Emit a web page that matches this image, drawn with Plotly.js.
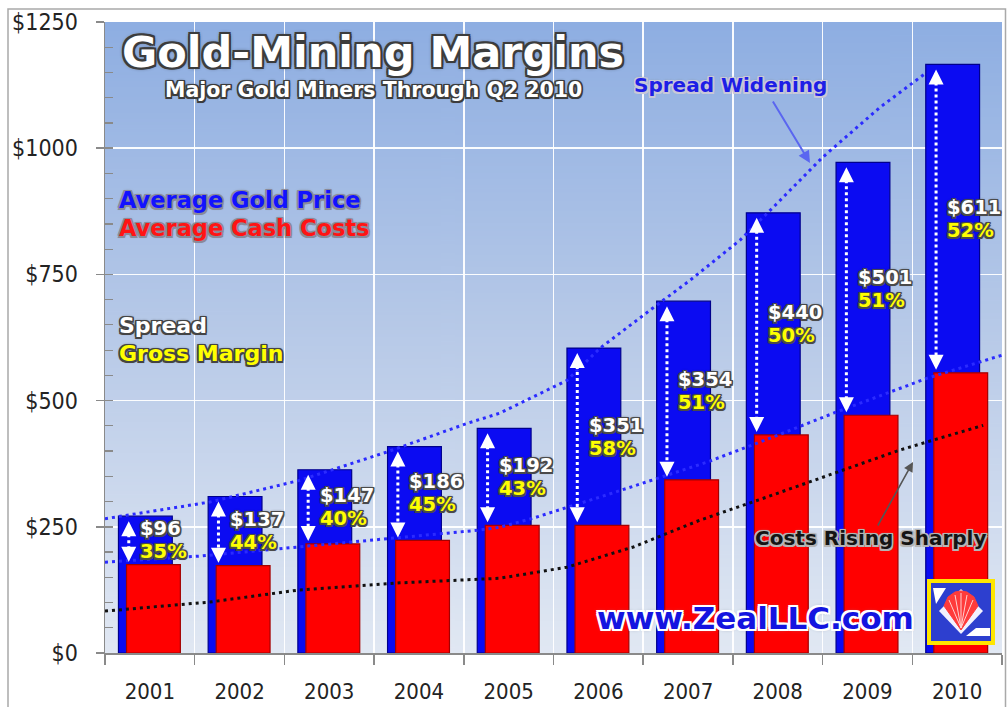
<!DOCTYPE html>
<html><head><meta charset="utf-8">
<script src="https://cdn.plot.ly/plotly-3.0.1.min.js"></script>
<style>html,body{margin:0;padding:0;background:#fff;overflow:hidden}#chart{width:1008px;height:707px}</style>
</head><body><div id="chart"></div>
<script>
// ---------- data ----------
const years = ['2001','2002','2003','2004','2005','2006','2007','2008','2009','2010'];
const yearNum = [2001,2002,2003,2004,2005,2006,2007,2008,2009,2010];
const goldPrice = [271,310,363,409,445,604,697,872,972,1166];
const cashCosts = [175,173,216,223,253,253,343,432,471,555];
const spreadLabels = ['$96','$137','$147','$186','$192','$351','$354','$440','$501','$611'];
const marginLabels = ['35%','44%','40%','45%','43%','58%','51%','50%','51%','52%'];

// dotted trend lines (fractional year, $)
const goldTrendX = [2000.5,2001.67,2002.67,2003.64,2004.54,2004.9,2005.65,2006.02,2006.65,2007.02,2007.58,2007.95,2008.5,2009.14,2009.66];
const goldTrendY = [266,299,342,398,455,475,540,604,689,738,818,883,982,1081,1150];
const midTrendX = [2000.5,2001.56,2004.65,2004.9,2005.27,2006.16,2007.21,2007.95,2008.62,2009.66,2010.5];
const midTrendY = [180,192,243,249,267,317,378,428,475,544,590];
const costTrendX = [2000.5,2001.67,2002.67,2003.79,2004.9,2005.65,2006.39,2007.13,2007.88,2008.62,2009.36,2010.29];
const costTrendY = [83,101,125,139,148,170,210,263,309,356,402,451];

const yTickVals = [0,250,500,750,1000,1250];
const yTickText = ['$0','$250','$500','$750','$1000','$1250'];

// ---------- layout geometry ----------
const W = 1008, H = 707, ML = 105, MR = 6, MT = 22, MB = 54;
const PW = W - ML - MR, PH = H - MT - MB;
const YMAX = 1250;
const px = (x) => (x - ML) / PW;            // pixel x -> paper
const py = (y) => (H - MB - y) / PH;        // pixel y -> paper
const pxPerDollar = PH / YMAX;

function outline(color, w, glow, glowColor) {
  const o = [];
  const d = [[-w,-w],[0,-w],[w,-w],[-w,0],[w,0],[-w,w],[0,w],[w,w]];
  for (const [dx,dy] of d) o.push(dx + 'px ' + dy + 'px 0 ' + color);
  if (glow) o.push('0 0 ' + glow + 'px ' + (glowColor || color));
  return o.join(', ');
}

// gradient background image for plot area
const cv = document.createElement('canvas');
cv.width = 4; cv.height = 400;
const cx = cv.getContext('2d');
const gr = cx.createLinearGradient(0,0,0,400);
gr.addColorStop(0, '#8eaee2');
gr.addColorStop(0.5, '#b8cae8');
gr.addColorStop(1, '#e1e8f3');
cx.fillStyle = gr; cx.fillRect(0,0,4,400);
const bgURL = cv.toDataURL('image/png');

const F = 'DejaVu Sans, Verdana, sans-serif';
const FC = 'DejaVu Sans Condensed, DejaVu Sans, sans-serif';

// ---------- traces ----------
const traces = [];
traces.push({type:'bar', x: years, y: goldPrice, xaxis:'x', yaxis:'y',
  offset: -0.35, width: 0.6,
  marker:{color:'#0b0bf2', line:{color:'#00008c', width:1.2}}, hoverinfo:'skip'});
traces.push({type:'bar', x: years, y: cashCosts, xaxis:'x', yaxis:'y',
  offset: -0.26, width: 0.6,
  marker:{color:'#ff0000', line:{color:'#a30000', width:1.2}}, hoverinfo:'skip'});

const dotted = '3px,4px';
traces.push({type:'scatter', mode:'lines', x: midTrendX, y: midTrendY, xaxis:'x2', yaxis:'y2',
  line:{color:'#2b2bff', width:3, dash:dotted}, hoverinfo:'skip'});
traces.push({type:'scatter', mode:'lines', x: goldTrendX, y: goldTrendY, xaxis:'x2', yaxis:'y2',
  line:{color:'#2b2bff', width:3, dash:dotted}, hoverinfo:'skip'});
traces.push({type:'scatter', mode:'lines', x: costTrendX, y: costTrendY, xaxis:'x2', yaxis:'y2',
  line:{color:'#111111', width:3, dash:dotted}, hoverinfo:'skip'});

// spread arrows shafts
const ARROW_DX = -0.235;
const shaftX = [], shaftY = [];
yearNum.forEach((yr, i) => {
  shaftX.push(yr + ARROW_DX, yr + ARROW_DX, null);
  shaftY.push(goldPrice[i] - 12 / pxPerDollar, cashCosts[i] + 8 / pxPerDollar, null);
});
traces.push({type:'scatter', mode:'lines', x: shaftX, y: shaftY, xaxis:'x2', yaxis:'y2',
  line:{color:'#ffffff', width:3, dash:'3px,3px'}, connectgaps:false, hoverinfo:'skip'});

// ---------- annotations ----------
const ann = [];
yearNum.forEach((yr, i) => {
  ann.push({xref:'x2', yref:'y2', x: yr + ARROW_DX, y: goldPrice[i], ax:0, ay:13, text:'',
    showarrow:true, arrowhead:2, arrowsize:1.0, arrowwidth:3, arrowcolor:'#ffffff', standoff:5});
  ann.push({xref:'x2', yref:'y2', x: yr + ARROW_DX, y: cashCosts[i], ax:0, ay:-13, text:'',
    showarrow:true, arrowhead:2, arrowsize:1.0, arrowwidth:3, arrowcolor:'#ffffff', standoff:3});
  const mid = (goldPrice[i] + cashCosts[i]) / 2;
  ann.push({xref:'x2', yref:'y2', x: yr - 0.13, y: mid, yshift: 11.5, xanchor:'left', yanchor:'middle',
    showarrow:false, text: spreadLabels[i],
    font:{family:F, size:19.5, color:'#ffffff', weight:'bold', shadow: outline('#4a4a4a', 1.5, 3, '#333')}});
  ann.push({xref:'x2', yref:'y2', x: yr - 0.13, y: mid, yshift: -11.5, xanchor:'left', yanchor:'middle',
    showarrow:false, text: marginLabels[i],
    font:{family:F, size:19.5, color:'#ffff00', weight:'bold', shadow: outline('#4a4a4a', 1.5, 3, '#333')}});
});

function label(text, x, y, size, color, shadow, xanchor) {
  ann.push({xref:'paper', yref:'paper', x: px(x), y: py(y), xanchor: xanchor || 'center', yanchor:'middle',
    showarrow:false, text: text, font:{family:F, size:size, color:color, weight:'bold', shadow:shadow}});
}
label('Gold-Mining Margins', 373, 52, 43, '#ffffff', outline('#3c3c3c', 2, 4, '#222'));
label('Major Gold Miners Through Q2 2010', 373, 90, 20.5, '#ffffff', outline('#3c3c3c', 1.5, 3, '#222'));
label('Spread Widening', 730, 85, 20, '#1e1ee6', outline('#c8c8d8', 1.5, 3, '#888'));
label('Average Gold Price', 117, 200, 22.5, '#1212ff', outline('#8a8a9a', 1.5, 3, '#777'), 'left');
label('Average Cash Costs', 117, 228, 22.5, '#ff1414', outline('#8a8a9a', 1.5, 3, '#777'), 'left');
label('Spread', 117, 325, 22, '#ffffff', outline('#444444', 1.5, 3, '#333'), 'left');
label('Gross Margin', 117, 353, 22, '#ffff00', outline('#444444', 1.5, 3, '#333'), 'left');
label('Costs Rising Sharply', 871, 538, 20, '#141414', outline('#b5b5b5', 1.5, 3, '#999'));
label('www.ZealLLC.com', 755, 618, 31, '#1414e0', outline('#ffffff', 2, 4, '#8a8a9a'));

// pointer arrows
ann.push({xref:'paper', yref:'paper', x: px(810), y: py(163), ax: -38, ay: -63, text:'',
  showarrow:true, arrowhead:2, arrowsize:1.2, arrowwidth:2, arrowcolor:'#5a66f0'});
ann.push({xref:'paper', yref:'paper', x: px(913), y: py(462), ax: -36, ay: 65, text:'',
  showarrow:true, arrowhead:2, arrowsize:1.2, arrowwidth:1.6, arrowcolor:'#555555'});

// ---------- shapes: frame + logo ----------
const shapes = [];
shapes.push({type:'rect', xref:'paper', yref:'paper', x0: px(8), x1: px(1005.5), y0: py(730), y1: py(9),
  line:{color:'#a9a9a9', width:1.5}, fillcolor:'rgba(0,0,0,0)', layer:'above'});
function pth(pts) { return 'M' + pts.map(p => px(p[0]) + ',' + py(p[1])).join(' L') + ' Z'; }
// logo box
shapes.push({type:'rect', xref:'paper', yref:'paper', x0: px(929), x1: px(993), y0: py(643), y1: py(581),
  fillcolor:'#2d3fcf', line:{color:'#ffe600', width:4}, layer:'above'});
shapes.push({type:'path', xref:'paper', yref:'paper', path: pth([[933,588],[946,588],[936,604]]),
  fillcolor:'#ffffff', line:{width:0}, layer:'above'});
shapes.push({type:'path', xref:'paper', yref:'paper', path: pth([[961,589],[983,611],[961,634],[939,611]]),
  fillcolor:'#f1f1ff', line:{width:0}, layer:'above'});
shapes.push({type:'path', xref:'paper', yref:'paper', path: pth([[961,630],[944,606],[948,597],[955,592],[961,591],[967,592],[974,597],[978,606]]),
  fillcolor:'#ff3b3b', line:{color:'#ff3b3b', width:1}, layer:'above'});
[[949,600],[955,595],[961,593],[967,595],[973,600]].forEach(p => {
  shapes.push({type:'line', xref:'paper', yref:'paper', x0: px(961), y0: py(628), x1: px(p[0]), y1: py(p[1]),
    line:{color:'#ffd0d0', width:1}, layer:'above'});
});
shapes.push({type:'path', xref:'paper', yref:'paper', path: pth([[966,636],[990,636],[990,628],[976,628]]),
  fillcolor:'#ffffff', line:{width:0}, layer:'above'});

// ---------- layout ----------
const axisGray = '#8a8a8a';
const layout = {
  width: W, height: H,
  margin: {l: ML, r: MR, t: MT, b: MB, pad: 0},
  paper_bgcolor: '#ffffff', plot_bgcolor: 'rgba(0,0,0,0)',
  showlegend: false, barmode: 'overlay',
  images: [{source: bgURL, xref:'paper', yref:'paper', x:0, y:1, sizex:1, sizey:1,
    xanchor:'left', yanchor:'top', sizing:'stretch', layer:'below'}],
  xaxis: {type:'category', range:[-0.5, 9.5], tickson:'boundaries', ticks:'outside', ticklen:10,
    tickwidth:1.5, tickcolor: axisGray, showline:true, linecolor: axisGray, linewidth:1.5,
    showgrid:true, gridcolor:'rgba(255,255,255,0.95)', gridwidth:1.5, zeroline:false,
    ticklabelstandoff: 18, tickfont:{family:FC, size:22, color:'#232323'}, fixedrange:true},
  xaxis2: {type:'linear', overlaying:'x', range:[2000.5, 2010.5], visible:false, anchor:'y2', fixedrange:true},
  yaxis: {range:[0, YMAX], tickmode:'array', tickvals: yTickVals, ticktext: yTickText,
    ticks:'outside', ticklen:8, tickwidth:1.5, tickcolor: axisGray, showline:true, linecolor: axisGray,
    linewidth:1.5, showgrid:true, gridcolor:'rgba(255,255,255,0.95)', gridwidth:1.5, zeroline:false,
    ticklabelstandoff: 13, tickfont:{family:FC, size:23, color:'#232323'}, fixedrange:true},
  yaxis2: {range:[0, YMAX], overlaying:'y', side:'left', anchor:'x', tickmode:'linear', tick0:0, dtick:250,
    ticks:'inside', ticklen:8, tickwidth:1.5, tickcolor: axisGray, showticklabels:false,
    showgrid:false, showline:false, zeroline:false, fixedrange:true,
    minor:{tickmode:'linear', tick0:0, dtick:50, ticks:'inside', ticklen:8, tickwidth:1.2, tickcolor: axisGray, showgrid:false}},
  annotations: ann,
  shapes: shapes
};

Plotly.newPlot('chart', traces, layout, {staticPlot:true, displayModeBar:false});
</script>
</body></html>
